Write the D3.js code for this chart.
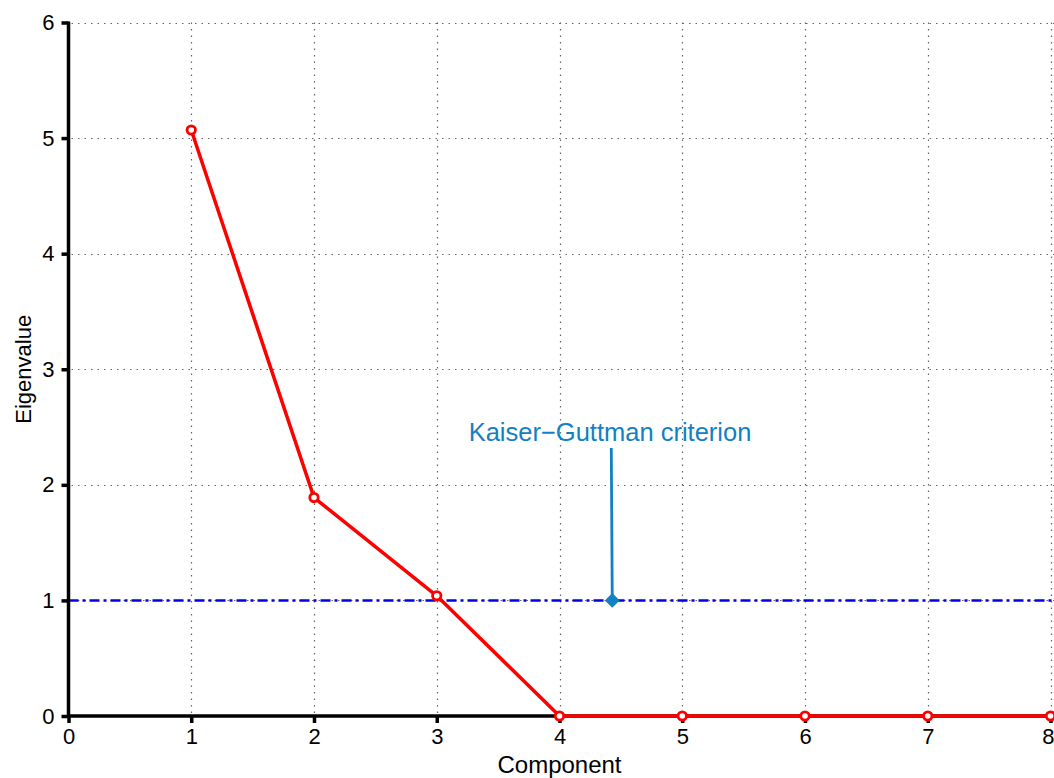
<!DOCTYPE html>
<html>
<head>
<meta charset="utf-8">
<script src="https://cdn.jsdelivr.net/npm/d3@7"></script>
<style>
  html, body { margin: 0; padding: 0; background: #fff; }
  text { font-family: "Liberation Sans", Arial, sans-serif; }
</style>
</head>
<body>
<svg id="chart" width="1054" height="778"></svg>
<script>
// Scree plot: eigenvalues per principal component
const components = [1, 2, 3, 4, 5, 6, 7, 8];
const eigenvalues = [5.07, 1.89, 1.04, 0, 0, 0, 0, 0];
const xTicks = [0, 1, 2, 3, 4, 5, 6, 7, 8];
const yTicks = [0, 1, 2, 3, 4, 5, 6];
const kaiserThreshold = 1;
const annotationX = 4.43;
const annotationText = "Kaiser\u2212Guttman criterion";

const svg = d3.select("#chart");
const x = d3.scaleLinear().domain([0, 8]).range([68.5, 1050.5]);
const y = d3.scaleLinear().domain([0, 6]).range([716, 22.5]);
const FS = 22;

// grid
const grid = svg.append("g").attr("stroke", "#666").attr("stroke-width", 1.2)
  .attr("stroke-dasharray", "1.5,5").attr("fill", "none");
grid.selectAll("line.v").data(xTicks.filter(d => d > 0)).join("line")
  .attr("x1", d => Math.round(x(d)) + 0.5).attr("x2", d => Math.round(x(d)) + 0.5)
  .attr("y1", y(6)).attr("y2", y(0));
grid.selectAll("line.h").data(yTicks.filter(d => d > 0)).join("line")
  .attr("x1", x(0) + 3).attr("x2", 1054)
  .attr("y1", d => Math.round(y(d)) + 0.5).attr("y2", d => Math.round(y(d)) + 0.5);

// Kaiser-Guttman threshold line
svg.append("line")
  .attr("x1", x(0)).attr("x2", 1054)
  .attr("y1", y(kaiserThreshold)).attr("y2", y(kaiserThreshold))
  .attr("stroke", "#0000e8").attr("stroke-width", 2.5)
  .attr("stroke-dasharray", "10,4,3,4");

// axes
const xAxis = svg.append("g").attr("transform", `translate(0,${y(0)})`)
  .call(d3.axisBottom(x).tickValues(xTicks).tickFormat(d3.format("d")).tickSize(7).tickSizeOuter(0));
xAxis.select(".domain").attr("stroke", "#000").attr("stroke-width", 3.5)
  .attr("d", `M${x(0) - 1},0H1054`);
xAxis.selectAll(".tick line").attr("stroke-width", 3.5);
xAxis.selectAll(".tick text").attr("font-size", FS).attr("y", 10).attr("dy", "0.8em").attr("fill", "#000");
// keep the last tick label inside the right edge
xAxis.selectAll(".tick text").filter(d => d === 8).attr("text-anchor", "end").attr("x", 3.5);

const yAxis = svg.append("g").attr("transform", `translate(${x(0)},0)`)
  .call(d3.axisLeft(y).tickValues(yTicks).tickFormat(d3.format("d")).tickSize(7).tickSizeOuter(0));
yAxis.select(".domain").attr("stroke", "#000").attr("stroke-width", 3.5)
  .attr("d", `M0,${y(6) - 1}V${y(0) + 1.5}`);
yAxis.selectAll(".tick line").attr("stroke-width", 3.5);
yAxis.selectAll(".tick text").attr("font-size", FS).attr("fill", "#000").attr("x", -14);

// axis titles
svg.append("text").attr("x", x(4)).attr("y", 773).attr("text-anchor", "middle")
  .attr("font-size", 24).text("Component");
svg.append("text").attr("transform", `translate(31,${y(3)}) rotate(-90)`)
  .attr("text-anchor", "middle").attr("font-size", FS).text("Eigenvalue");

// scree line and points
const pts = components.map((c, i) => ({ c, v: eigenvalues[i] }));
svg.append("path").datum(pts)
  .attr("d", d3.line().x(d => x(d.c)).y(d => y(d.v)))
  .attr("fill", "none").attr("stroke", "#ff0000").attr("stroke-width", 3.5)
  .attr("stroke-linejoin", "round");
svg.selectAll("circle.pt").data(pts).join("circle")
  .attr("cx", d => x(d.c)).attr("cy", d => y(d.v)).attr("r", 4.2)
  .attr("fill", "#fff").attr("stroke", "#ff0000").attr("stroke-width", 2.8);

// annotation
const ann = svg.append("g").attr("fill", "#1380c4").attr("stroke", "#1380c4");
ann.append("line")
  .attr("x1", x(annotationX) - 1).attr("y1", 448)
  .attr("x2", x(annotationX)).attr("y2", y(kaiserThreshold))
  .attr("stroke-width", 2.8);
ann.append("path")
  .attr("transform", `translate(${x(annotationX)},${y(kaiserThreshold)})`)
  .attr("d", d3.symbol(d3.symbolDiamond2, 140)())
  .attr("stroke", "none");
ann.append("text").attr("x", 610).attr("y", 441)
  .attr("text-anchor", "middle").attr("font-size", 25.5).attr("stroke", "none")
  .text(annotationText);
</script>
</body>
</html>
